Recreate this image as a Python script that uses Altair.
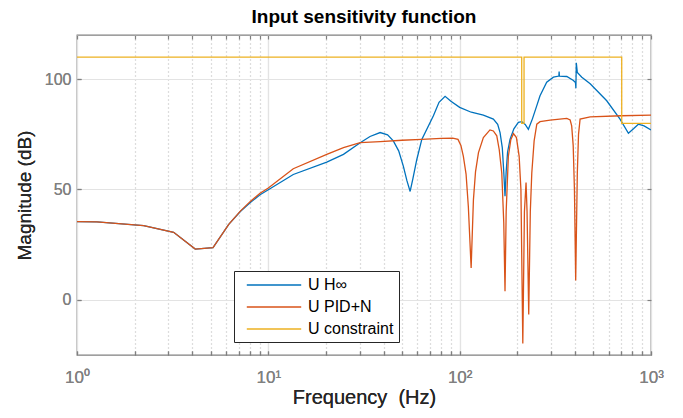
import altair as alt
import pandas as pd

# ---- data ----
hinf_f = [1, 1.27, 2.23, 3.2, 4.15, 5.14, 6.21, 7.14, 8.05, 9.05, 10, 13.5, 20.2, 24.7, 30.2, 34, 38.4, 42, 45,
          48, 50.8, 53, 55.1, 57, 59.7, 63.4, 72.9, 78, 83.9, 90, 100, 115, 133, 150, 158, 162.6, 167, 170, 172.6,
          175, 178, 183.3, 192, 202.6, 211.2, 220, 228.6, 240, 253, 263, 285, 309, 330, 331, 332, 363, 393, 403,
          405, 407, 412, 435, 481, 587, 689, 762, 810, 859, 920, 1000]
hinf_db = [35.4, 35.3, 33.6, 30.6, 23.0, 23.7, 34.2, 40.0, 44.1, 47.6, 49.9, 56.8, 62.4, 65.9, 71.2, 74.0, 75.8,
           74.8, 72.0, 67.5, 60.5, 54.0, 49.1, 55.0, 63.6, 72.7, 83.4, 89.5, 92.2, 90.0, 87.2, 85.0, 83.7, 81.9,
           79.5, 75.8, 69.0, 58.0, 46.9, 58.0, 67.0, 72.7, 77.5, 80.4, 80.7, 79.5, 77.3, 82.0, 88.0, 92.5, 98.6,
           100.9, 101.4, 103.5, 101.4, 101.2, 99.4, 98.5, 95.9, 107.4, 103.0, 100.9, 97.9, 90.2, 81.9, 75.5, 77.5,
           79.6, 78.8, 77.0]

pid_f = [1, 1.27, 2.23, 3.2, 4.15, 5.14, 6.21, 7.14, 8.05, 9.05, 10, 13.5, 20.2, 24.7, 30.2, 38.4, 50, 63.4, 80,
         92, 98, 101.5, 104.5, 108, 111, 114.8, 118, 121, 125.4, 133, 144, 150, 156.3, 161, 166, 170, 172.6, 175,
         179.7, 185, 191, 198, 204.6, 209, 213.8, 218, 222.3, 225, 229.6, 234, 238.2, 245, 253, 263, 297, 363,
         378, 385, 392, 398, 404, 412, 418, 426, 481, 700, 1000]
pid_db = [35.4, 35.3, 33.6, 30.6, 23.0, 23.7, 34.2, 40.2, 44.6, 48.3, 50.7, 59.4, 65.9, 69.0, 71.2, 71.7, 72.3,
          72.7, 73.2, 73.3, 72.7, 70.0, 65.1, 57.0, 42.3, 14.4, 45.3, 58.0, 66.7, 73.5, 77.0, 76.5, 74.3, 68.0,
          57.5, 35.0, 3.9, 40.0, 65.1, 72.5, 75.3, 73.5, 65.0, 50.0, -19.8, 40.0, 53.2, 40.0, -6.7, 40.0, 57.5,
          72.0, 79.6, 80.7, 81.4, 82.2, 81.5, 78.8, 70.0, 49.9, 8.8, 57.5, 75.0, 81.9, 82.9, 83.4, 83.7]

con_f = [1, 211, 211, 217, 217, 703, 703, 1000]
con_db = [110, 110, 80, 80, 110, 110, 80, 80]

series_names = ["U H\u221e", "U PID+N", "U constraint"]
series_colors = ["#0072BD", "#D95319", "#EDB120"]

x_ticks = [1, 2, 3, 4, 5, 6, 7, 8, 9, 10, 20, 30, 40, 50, 60, 70, 80, 90,
           100, 200, 300, 400, 500, 600, 700, 800, 900, 1000]
y_ticks = [0, 50, 100]


def frame(fs, ds, name):
    return pd.DataFrame({"f": fs, "mag": ds, "series": name, "order": list(range(len(fs)))})


df_h = frame(hinf_f, hinf_db, series_names[0])
df_p = frame(pid_f, pid_db, series_names[1])
df_c = frame(con_f, con_db, series_names[2])

FONT = "Liberation Sans"
AX_GRAY = "#808080"
major_test = "indexof([1, 10, 100, 1000], datum.value) < 0"

x_scale = alt.Scale(type="log", domain=[1, 1000], nice=False)
y_scale = alt.Scale(domain=[-25, 120], nice=False, zero=False)

label_expr = ("datum.value == 1 ? '10\u2070' : datum.value == 10 ? '10\u00b9' : "
              "datum.value == 100 ? '10\u00b2' : datum.value == 1000 ? '10\u00b3' : ''")

x_axis = alt.Axis(
    values=x_ticks, labelExpr=label_expr, title="Frequency \u00a0(Hz)", orient="bottom",
    grid=True,
    gridDash={"condition": {"test": major_test, "value": [1, 3]}, "value": []},
    gridColor={"condition": {"test": major_test, "value": "#d2d2d2"}, "value": "#e3e3e3"},
    gridWidth=1.2,
    domain=False, offset=-4, tickSize=4, tickColor=AX_GRAY, tickWidth=1.2,
    labelFont=FONT, labelFontSize=17, labelColor=AX_GRAY, labelPadding=14, labelFlush=False,
    labelOverlap=False,
    titleFont=FONT, titleFontSize=20, titleFontWeight="normal", titleColor="#262626", titlePadding=2,
)
y_axis = alt.Axis(
    values=y_ticks, title="Magnitude (dB)", orient="left",
    grid=True, gridColor="#e3e3e3", gridWidth=1.2,
    domain=False, offset=-4, tickSize=4, tickColor=AX_GRAY, tickWidth=1.2,
    labelFont=FONT, labelFontSize=16, labelColor=AX_GRAY, labelPadding=6,
    titleFont=FONT, titleFontSize=19, titleFontWeight="normal", titleColor="#262626", titlePadding=10,
)

color = alt.Color(
    "series:N",
    scale=alt.Scale(domain=series_names, range=series_colors),
    sort=series_names,
    legend=alt.Legend(
        title=None, orient="none", legendX=157, legendY=236,
        symbolType="M-3.4,0L3.4,0", symbolSize=256, symbolStrokeWidth=1.5, symbolOffset=26,
        labelFont=FONT, labelFontSize=16, labelColor="#000000", labelOffset=25,
        rowPadding=5, padding=5, strokeColor="#262626", fillColor="#ffffff",
        cornerRadius=0,
    ),
)


def line(df, axes=True):
    if axes:
        xe = alt.X("f:Q", scale=x_scale, axis=x_axis)
        ye = alt.Y("mag:Q", scale=y_scale, axis=y_axis)
    else:
        xe = alt.X("f:Q", scale=x_scale, axis=alt.Axis(
            values=x_ticks, orient="top", labels=False, title=None, grid=False, domain=False,
            offset=-4, tickSize=4, tickColor=AX_GRAY, tickWidth=1.2))
        ye = alt.Y("mag:Q", scale=y_scale, axis=alt.Axis(
            values=y_ticks, orient="right", labels=False, title=None, grid=False, domain=False,
            offset=-4, tickSize=4, tickColor=AX_GRAY, tickWidth=1.2))
    return alt.Chart(df).mark_line(strokeWidth=1.3, clip=True).encode(
        x=xe, y=ye, color=color, order="order:Q"
    )


chart = alt.layer(
    line(df_h), line(df_p), line(df_c, axes=False)
).resolve_axis(x="independent", y="independent").properties(
    width=574, height=320,
    padding={"left": 69, "top": 27, "right": 24, "bottom": 55},
    autosize=alt.AutoSizeParams(type="none"),
    title=alt.TitleParams("Input sensitivity function", font=FONT, fontSize=19, fontWeight="bold",
                          color="#000000", offset=7),
).configure_view(stroke=AX_GRAY, strokeWidth=1.3)

chart.save("out.html", embed_options={"renderer": "svg", "actions": False})
